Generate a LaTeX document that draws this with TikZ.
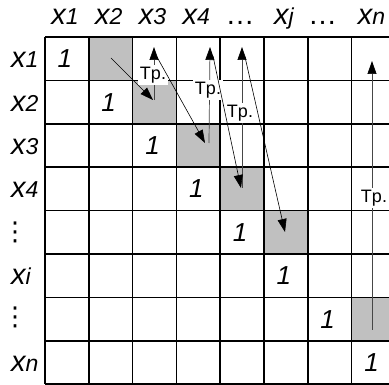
\documentclass[tikz,border=0pt]{standalone}
\usepackage{fontspec}
\setmainfont{Liberation Sans}
\newfontfamily\simbolos{DejaVu Sans}
\usetikzlibrary{arrows.meta}
\definecolor{gris}{RGB}{192,192,192}
\definecolor{trazo}{RGB}{70,70,70}
\newcommand{\xlab}[1]{{\fontsize{29}{29}\selectfont\itshape x}{\fontsize{23}{23}\selectfont\itshape #1}}
\newcommand{\cellw}{43.8}
\newcommand{\cellh}{43.4}

\begin{document}
\begin{tikzpicture}[x=1pt,y=-1pt,
    rejilla/.style={line width=1.5pt,black},
    uno/.style={font=\fontsize{26}{26}\selectfont\itshape},
    tp/.style={fill=white,inner sep=2pt,font=\fontsize{18}{18}\selectfont},
    subir/.style={trazo,line width=0.7pt,-{Triangle[length=13pt,width=9pt,color=black]}},
    bajar/.style={black,line width=0.6pt,-{Triangle[length=13pt,width=9pt]}},
    puntos/.style={inner sep=0pt,font=\simbolos\fontsize{26}{26}\selectfont}]
  \useasboundingbox (0,0) rectangle (389,385);

  % celdas grises
  \foreach \r/\c in {1/2,2/3,3/4,4/5,5/6,7/8}
    \fill[gris] ({45+(\c-1)*\cellw},{37+(\r-1)*\cellh}) rectangle ++(\cellw,\cellh);

  % rejilla
  \foreach \i in {0,...,8} {
    \draw[rejilla] ({45+\i*\cellw},37) -- ({45+\i*\cellw},384);
    \draw[rejilla] (45,{37+\i*\cellh}) -- (395,{37+\i*\cellh});
  }

  % diagonal de unos
  \foreach \k in {1,...,8}
    \node[uno] (uno\k) at ({45+(\k-.5)*\cellw-2},{37+(\k-.5)*\cellh}) {1};

  % cabecera y filas
  \foreach \k/\t in {1/1,2/2,3/3,4/4,6/j,8/n}
    \node[anchor=base] (col\t) at ({45+(\k-.5)*\cellw-2},25) {\xlab{\t}};
  \node[anchor=base,font=\fontsize{29}{29}\selectfont] (colp5) at ({45+4.5*\cellw-2},25) {…};
  \node[anchor=base,font=\fontsize{29}{29}\selectfont] (colp7) at ({45+6.5*\cellw-7},25) {…};
  \foreach \k/\t in {1/1,2/2,3/3,4/4,6/i,8/n}
    \node[anchor=base west,inner sep=0pt] (fila\t) at (11,{37+(\k-.5)*\cellh+9}) {\xlab{\t}};
  \node[puntos] (filap5) at (15,232) {⋮};
  \node[puntos] (filap7) at (15,317) {⋮};

  % puntos de las flechas
  \coordinate (a1) at (111,58);
  \coordinate (b3) at (154,100); \coordinate (t3) at (154,47);
  \coordinate (a3) at (157,57);  \coordinate (b4) at (209,143); \coordinate (t4) at (210,47);
  \coordinate (a4) at (213,56);  \coordinate (b5) at (242,188); \coordinate (t5) at (242,47);
  \coordinate (a5) at (245,57);  \coordinate (b6) at (285,232);
  \coordinate (b8) at (372,330); \coordinate (t8) at (372,61);

  % transposiciones
  \draw[subir] (b3) -- (t3);
  \draw[subir] (b4) -- (t4);
  \draw[subir] (b5) -- (t5);
  \draw[subir] (b8) -- (t8);
  \node[tp] (tp3) at (153,75) {Tp.};
  \node[tp] (tp4) at (208,90) {Tp.};
  \node[tp] (tp5) at (240,113) {Tp.};
  \node[tp,inner xsep=1pt] (tp8) at (374,198) {Tp.};

  \draw[bajar] (a1) -- ([xshift=-1pt]b3);
  \draw[bajar] (a3) -- ([xshift=-4pt]b4);
  \draw[bajar] (a4) -- ([xshift=-1pt]b5);
  \draw[bajar] (a5) -- (b6);
\end{tikzpicture}
\end{document}
